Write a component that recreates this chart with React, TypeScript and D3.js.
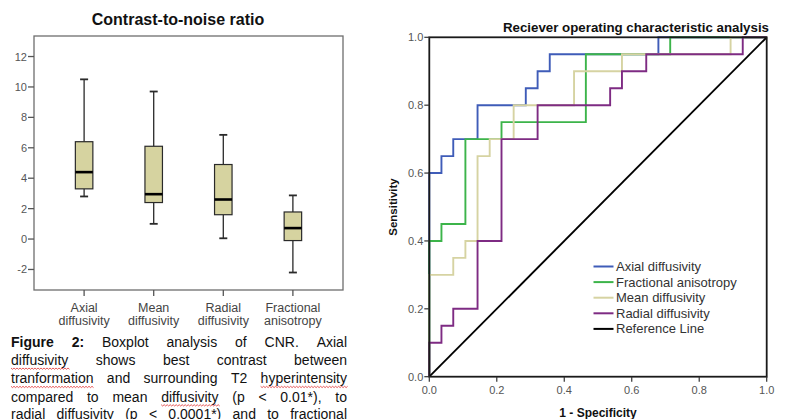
import React, { useEffect, useRef } from "react";
import * as d3 from "d3";

// boxplot data (CNR)
const categories = [
  ["Axial", "diffusivity"],
  ["Mean", "diffusivity"],
  ["Radial", "diffusivity"],
  ["Fractional", "anisotropy"],
];
const minVals = [2.8, 1.0, 0.05, -2.2];
const q1Vals = [3.3, 2.4, 1.6, -0.1];
const medianVals = [4.4, 2.95, 2.6, 0.72];
const q3Vals = [6.4, 6.1, 4.9, 1.78];
const maxVals = [10.5, 9.7, 6.85, 2.87];
const cnrTicks = [-2, 0, 2, 4, 6, 8, 10, 12];

// ROC curves: corner points (1 - specificity, sensitivity)
const rocNames = ["Axial diffusivity", "Fractional anisotropy", "Mean diffusivity", "Radial diffusivity"];
const rocColors = ["#3f5cb8", "#3cb44a", "#d6d3a2", "#7e2b83"];
const axialFpr = [0, 0, 0.036, 0.071, 0.143, 0.286, 0.321, 0.357, 0.679, 1];
const axialTpr = [0, 0.6, 0.65, 0.7, 0.8, 0.85, 0.9, 0.95, 1, 1];
const faFpr = [0, 0, 0.036, 0.107, 0.214, 0.464, 0.714, 1];
const faTpr = [0, 0.4, 0.45, 0.7, 0.75, 0.95, 1, 1];
const meanFpr = [0, 0, 0.071, 0.107, 0.143, 0.179, 0.25, 0.429, 0.571, 0.893, 1];
const meanTpr = [0, 0.3, 0.35, 0.4, 0.65, 0.7, 0.8, 0.9, 0.95, 1, 1];
const radialFpr = [0, 0, 0.036, 0.071, 0.143, 0.214, 0.321, 0.536, 0.571, 0.643, 0.929, 1];
const radialTpr = [0, 0.1, 0.15, 0.2, 0.4, 0.7, 0.8, 0.85, 0.9, 0.95, 1, 1];
const rocTicks = [0, 0.2, 0.4, 0.6, 0.8, 1.0];

// caption, one array per justified line; "*" marks spell-check underline, "!" bold
const captionLines = [
  ["!Figure", "!2:", "Boxplot", "analysis", "of", "CNR.", "Axial"],
  ["*diffusivity", "shows", "best", "contrast", "between"],
  ["*tranformation", "and", "surrounding", "T2", "*hyperintensity"],
  ["compared", "to", "mean", "*diffusivity", "(p", "<", "0.01*),", "to"],
  ["radial", "*diffusivity", "(p", "<", "0.0001*)", "and", "to", "fractional"],
];

const FONT = "'Liberation Sans', Arial, sans-serif";

function App() {
  const ref = useRef<SVGSVGElement>(null);

  useEffect(() => {
    const svg = d3.select(ref.current);
    svg.selectAll("*").remove();
    drawBoxplot(svg);
    drawRoc(svg);
    drawCaption(svg);
  }, []);

  const drawBoxplot = (svg: any) => {
    const left = 34, right = 343, top = 36, bottom = 290;
    const x = d3.scalePoint<number>().domain(d3.range(categories.length)).range([left, right]).padding(0.72);
    const y = d3.scaleLinear().domain([-3.35, 13.35]).range([bottom, top]);
    const g = svg.append("g");

    g.append("text")
      .attr("x", 178)
      .attr("y", 25)
      .attr("text-anchor", "middle")
      .style("font-family", FONT)
      .style("font-size", "16px")
      .style("font-weight", "bold")
      .attr("fill", "#111")
      .text("Contrast-to-noise ratio");

    g.append("rect")
      .attr("x", left)
      .attr("y", top)
      .attr("width", right - left)
      .attr("height", bottom - top)
      .attr("fill", "none")
      .attr("stroke", "#6e6e6e")
      .attr("stroke-width", 1.3);

    cnrTicks.forEach((t) => {
      g.append("line").attr("x1", left - 6).attr("x2", left).attr("y1", y(t)).attr("y2", y(t))
        .attr("stroke", "#555").attr("stroke-width", 1.3);
      g.append("text")
        .attr("x", left - 7)
        .attr("y", y(t) + 4)
        .attr("text-anchor", "end")
        .style("font-family", FONT)
        .style("font-size", "11px")
        .attr("fill", "#555")
        .text(t);
    });

    const boxW = 17.5, capW = 8;
    categories.forEach((c, i) => {
      const cx = x(i)!;
      g.append("line").attr("x1", cx).attr("x2", cx).attr("y1", bottom).attr("y2", bottom + 6)
        .attr("stroke", "#555").attr("stroke-width", 1.3);
      c.forEach((s, j) => {
        g.append("text")
          .attr("x", cx)
          .attr("y", 311.5 + j * 13)
          .attr("text-anchor", "middle")
          .style("font-family", FONT)
          .style("font-size", "12.5px")
          .attr("fill", "#444")
          .text(s);
      });
      const stroke = "#2a2a2a";
      g.append("line").attr("x1", cx).attr("x2", cx).attr("y1", y(maxVals[i])).attr("y2", y(q3Vals[i]))
        .attr("stroke", stroke).attr("stroke-width", 1.3);
      g.append("line").attr("x1", cx).attr("x2", cx).attr("y1", y(q1Vals[i])).attr("y2", y(minVals[i]))
        .attr("stroke", stroke).attr("stroke-width", 1.3);
      [maxVals[i], minVals[i]].forEach((v) => {
        g.append("line").attr("x1", cx - capW / 2).attr("x2", cx + capW / 2).attr("y1", y(v)).attr("y2", y(v))
          .attr("stroke", stroke).attr("stroke-width", 1.8);
      });
      g.append("rect")
        .attr("x", cx - boxW / 2)
        .attr("y", y(q3Vals[i]))
        .attr("width", boxW)
        .attr("height", y(q1Vals[i]) - y(q3Vals[i]))
        .attr("fill", "#d6d3a0")
        .attr("stroke", stroke)
        .attr("stroke-width", 1.2);
      g.append("line").attr("x1", cx - boxW / 2).attr("x2", cx + boxW / 2)
        .attr("y1", y(medianVals[i])).attr("y2", y(medianVals[i]))
        .attr("stroke", "#000").attr("stroke-width", 2.6);
    });
  };

  const drawRoc = (svg: any) => {
    const left = 429.3, right = 766.7, top = 37.3, bottom = 376.7;
    const x = d3.scaleLinear().domain([0, 1]).range([left, right]);
    const y = d3.scaleLinear().domain([0, 1]).range([bottom, top]);
    const g = svg.append("g");

    g.append("text")
      .attr("x", 769)
      .attr("y", 31.5)
      .attr("text-anchor", "end")
      .style("font-family", FONT)
      .style("font-size", "13.3px")
      .style("font-weight", "bold")
      .attr("fill", "#111")
      .text("Reciever operating characteristic analysis");

    const curves = [
      [axialFpr, axialTpr],
      [faFpr, faTpr],
      [meanFpr, meanTpr],
      [radialFpr, radialTpr],
    ];
    const line = d3.line<[number, number]>()
      .x((d) => x(d[0]))
      .y((d) => y(d[1]))
      .curve(d3.curveStepAfter);
    curves.forEach(([fx, ty], i) => {
      const pts = fx.map((v, k) => [v, ty[k]] as [number, number]);
      g.append("path")
        .attr("d", line(pts))
        .attr("fill", "none")
        .attr("stroke", rocColors[i])
        .attr("stroke-width", 1.9);
    });
    g.append("line").attr("x1", x(0)).attr("y1", y(0)).attr("x2", x(1)).attr("y2", y(1))
      .attr("stroke", "#000").attr("stroke-width", 1.9);

    g.append("rect")
      .attr("x", left)
      .attr("y", top)
      .attr("width", right - left)
      .attr("height", bottom - top)
      .attr("fill", "none")
      .attr("stroke", "#1a1a1a")
      .attr("stroke-width", 1.8);

    rocTicks.forEach((t) => {
      g.append("line").attr("x1", left - 5).attr("x2", left).attr("y1", y(t)).attr("y2", y(t))
        .attr("stroke", "#333").attr("stroke-width", 1.2);
      g.append("text")
        .attr("x", left - 6)
        .attr("y", y(t) + 4)
        .attr("text-anchor", "end")
        .style("font-family", FONT)
        .style("font-size", "11px")
        .attr("fill", "#555")
        .text(t.toFixed(1));
      g.append("line").attr("x1", x(t)).attr("x2", x(t)).attr("y1", bottom).attr("y2", bottom + 5)
        .attr("stroke", "#333").attr("stroke-width", 1.2);
      g.append("text")
        .attr("x", x(t))
        .attr("y", bottom + 17)
        .attr("text-anchor", "middle")
        .style("font-family", FONT)
        .style("font-size", "11px")
        .attr("fill", "#555")
        .text(t.toFixed(1));
    });

    g.append("text")
      .attr("x", (left + right) / 2)
      .attr("y", 416.5)
      .attr("text-anchor", "middle")
      .style("font-family", FONT)
      .style("font-size", "12px")
      .style("font-weight", "bold")
      .attr("fill", "#111")
      .text("1 - Specificity");
    g.append("text")
      .attr("transform", `translate(397, ${(top + bottom) / 2}) rotate(-90)`)
      .attr("text-anchor", "middle")
      .style("font-family", FONT)
      .style("font-size", "11.5px")
      .style("font-weight", "bold")
      .attr("fill", "#111")
      .text("Sensitivity");

    const legend = [...rocNames, "Reference Line"];
    const legendColors = [...rocColors, "#000"];
    legend.forEach((name, i) => {
      const ly = 266.5 + i * 15.6;
      g.append("line").attr("x1", 593.5).attr("x2", 613.5).attr("y1", ly).attr("y2", ly)
        .attr("stroke", legendColors[i]).attr("stroke-width", 2);
      g.append("text")
        .attr("x", 616)
        .attr("y", ly + 4.5)
        .style("font-family", FONT)
        .style("font-size", "13px")
        .attr("fill", "#333")
        .text(name);
    });
  };

  const drawCaption = (svg: any) => {
    const x0 = 11, x1 = 347;
    const lineY = [346.7, 365, 383.3, 401.7, 419];
    const canvas = document.createElement("canvas");
    const ctx = canvas.getContext("2d")!;
    const g = svg.append("g");
    captionLines.forEach((words, li) => {
      const items = words.map((w) => {
        const bold = w.startsWith("!");
        const wavy = w.startsWith("*");
        const text = bold || wavy ? w.slice(1) : w;
        ctx.font = `${bold ? "bold " : ""}14px 'Liberation Sans'`;
        return { text, bold, wavy, width: ctx.measureText(text).width };
      });
      const total = d3.sum(items, (d) => d.width);
      const gap = (x1 - x0 - total) / (items.length - 1);
      let cx = x0;
      items.forEach((it) => {
        g.append("text")
          .attr("x", cx)
          .attr("y", lineY[li])
          .style("font-family", FONT)
          .style("font-size", "14px")
          .style("font-weight", it.bold ? "bold" : "normal")
          .attr("fill", "#111")
          .text(it.text);
        if (it.wavy) {
          const path = d3.path();
          const by = lineY[li] + 3;
          path.moveTo(cx, by);
          let px = cx;
          let k = 0;
          while (px < cx + it.width) {
            px += 1.5;
            k++;
            path.lineTo(px, by + (k % 2 ? 1.3 : 0));
          }
          g.append("path").attr("d", path.toString()).attr("fill", "none")
            .attr("stroke", "#e03030").attr("stroke-width", 0.8);
        }
        cx += it.width + gap;
      });
    });
  };

  return (
    <svg
      ref={ref}
      width={785}
      height={419}
      style={{ position: "absolute", left: 0, top: 0, background: "#fff" }}
    />
  );
}

export default App;
